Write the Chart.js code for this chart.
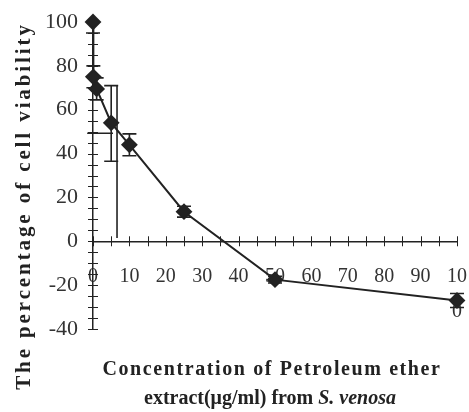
<!DOCTYPE html>
<html lang="en">
  <head>
    <meta charset="UTF-8" />
    <script src="https://cdn.jsdelivr.net/npm/chart.js"></script>
    <style>
      html, body { margin: 0; padding: 0; background: #fff; }
      #wrap { width: 469px; height: 412px; position: relative; }
    </style>
  </head>
  <body>
    <div id="wrap"><canvas id="viabilityChart"></canvas></div>

    <script>
      // Concentration (ug/ml) and percentage of cell viability
      const concentrations = [0, 0.1, 1, 5, 10, 25, 50, 100];
      const viability = [100, 75, 69.5, 54, 44, 13.5, -17.5, -27];
      const errorUp = [0, 5, 5, 17, 5, 2.5, 1.5, 3.2];
      const errorDown = [5, 5, 5, 17.5, 5, 2.5, 1.5, 3.2];

      // stray error-bar lines that appear in the original figure
      const strayVertical = { x: 6.6, from: 71, to: 1.5 };
      const strayHorizontal = { y: 49.3, from: -1.6, to: 5.5 };

      // tick labels
      const xLabelValues = [0, 10, 20, 30, 40, 50, 60, 70, 80, 90, 100];
      const yLabelValues = [100, 80, 60, 40, 20, 0, -20, -40];

      const ink = "#222";
      const serif = "'Liberation Serif', 'Times New Roman', serif";

      // error bars drawn through the scales
      const errorBars = {
        id: "errorBars",
        beforeDatasetsDraw(chart) {
          const { ctx, scales: { x, y } } = chart;
          ctx.save();
          ctx.strokeStyle = ink;
          ctx.lineWidth = 1.6;
          concentrations.forEach((c, i) => {
            const px = x.getPixelForValue(c);
            const top = y.getPixelForValue(viability[i] + errorUp[i]);
            const bot = y.getPixelForValue(viability[i] - errorDown[i]);
            ctx.beginPath();
            ctx.moveTo(px, top);
            ctx.lineTo(px, bot);
            if (errorUp[i] > 0) {
              ctx.moveTo(px - 7, top);
              ctx.lineTo(px + 7, top);
            }
            ctx.moveTo(px - 7, bot);
            ctx.lineTo(px + 7, bot);
            ctx.stroke();
          });
          // stray lines
          ctx.beginPath();
          const sx = x.getPixelForValue(strayVertical.x);
          ctx.moveTo(sx, y.getPixelForValue(strayVertical.from));
          ctx.lineTo(sx, y.getPixelForValue(strayVertical.to));
          const sy = y.getPixelForValue(strayHorizontal.y);
          ctx.moveTo(x.getPixelForValue(strayHorizontal.from), sy);
          ctx.lineTo(x.getPixelForValue(strayHorizontal.to), sy);
          ctx.stroke();
          ctx.restore();
        },
      };

      // tick marks crossing both axis lines
      const crossTicks = {
        id: "crossTicks",
        afterDraw(chart) {
          const { ctx, scales: { x, y } } = chart;
          const x0 = x.getPixelForValue(0);
          const y0 = y.getPixelForValue(0);
          ctx.save();
          ctx.strokeStyle = ink;
          ctx.lineWidth = 1;
          ctx.beginPath();
          x.ticks.forEach((t) => {
            const px = Math.round(x.getPixelForValue(t.value)) + 0.5;
            ctx.moveTo(px, y0 - 5);
            ctx.lineTo(px, y0 + 5);
          });
          y.ticks.forEach((t) => {
            const py = Math.round(y.getPixelForValue(t.value)) + 0.5;
            ctx.moveTo(x0 - 5, py);
            ctx.lineTo(x0 + 5, py);
          });
          ctx.stroke();
          ctx.restore();
        },
      };

      // axis titles (letter-spaced like the original)
      const axisTitles = {
        id: "axisTitles",
        afterDraw(chart) {
          const { ctx } = chart;
          ctx.save();
          ctx.fillStyle = ink;
          ctx.textBaseline = "alphabetic";

          ctx.save();
          ctx.translate(30, 206);
          ctx.rotate(-Math.PI / 2);
          ctx.font = "bold 21px " + serif;
          ctx.letterSpacing = "2.9px";
          ctx.textAlign = "center";
          ctx.fillText("The percentage of cell viability", 0, 0);
          ctx.restore();

          ctx.font = "bold 20px " + serif;
          ctx.letterSpacing = "1.6px";
          ctx.textAlign = "center";
          ctx.fillText("Concentration of Petroleum ether", 272, 375);

          ctx.letterSpacing = "0px";
          ctx.textAlign = "left";
          const partA = "extract(\u03bcg/ml) from ";
          const partB = "S. venosa";
          ctx.font = "bold 20px " + serif;
          const wA = ctx.measureText(partA).width;
          ctx.font = "italic bold 20px " + serif;
          const wB = ctx.measureText(partB).width;
          const start = 270 - (wA + wB) / 2;
          ctx.font = "bold 20px " + serif;
          ctx.fillText(partA, start, 404);
          ctx.font = "italic bold 20px " + serif;
          ctx.fillText(partB, start + wA, 404);
          ctx.restore();
        },
      };

      const ctx = document.getElementById("viabilityChart").getContext("2d");
      new Chart(ctx, {
        type: "line",
        data: {
          datasets: [
            {
              data: concentrations.map((c, i) => ({ x: c, y: viability[i] })),
              borderColor: ink,
              borderWidth: 2,
              backgroundColor: ink,
              pointStyle: "rectRot",
              pointRadius: 7,
              pointHoverRadius: 7,
              pointBackgroundColor: ink,
              pointBorderColor: ink,
              tension: 0,
              clip: false,
            },
          ],
        },
        options: {
          responsive: true,
          maintainAspectRatio: false,
          animation: false,
          layout: { padding: { top: 22, right: 12, bottom: 83, left: 0 } },
          plugins: { legend: { display: false }, tooltip: { enabled: false } },
          scales: {
            x: {
              type: "linear",
              position: { y: 0 },
              min: 0,
              max: 100,
              afterFit: (s) => { s.paddingLeft = 0; s.paddingRight = 0; },
              grid: { drawOnChartArea: false, drawTicks: false, tickLength: 0 },
              border: { color: ink, width: 1.5 },
              ticks: {
                stepSize: 5,
                autoSkip: false,
                maxRotation: 0,
                padding: 18,
                color: "#333",
                font: { family: serif, size: 20, lineHeight: 1.75 },
                callback: (v) =>
                  xLabelValues.includes(v) ? (v === 100 ? ["10", "0"] : String(v)) : "",
              },
            },
            y: {
              min: -40,
              max: 100,
              afterFit: (s) => { s.width = 93; s.paddingTop = 0; s.paddingBottom = 0; },
              grid: { drawOnChartArea: false, drawTicks: false, tickLength: 0 },
              border: { color: ink, width: 1.5 },
              ticks: {
                stepSize: 5,
                autoSkip: false,
                padding: 15,
                color: "#333",
                font: { family: serif, size: 22 },
                callback: (v) => (yLabelValues.includes(v) ? String(v) : ""),
              },
            },
          },
        },
        plugins: [errorBars, crossTicks, axisTitles],
      });
    </script>
  </body>
</html>
